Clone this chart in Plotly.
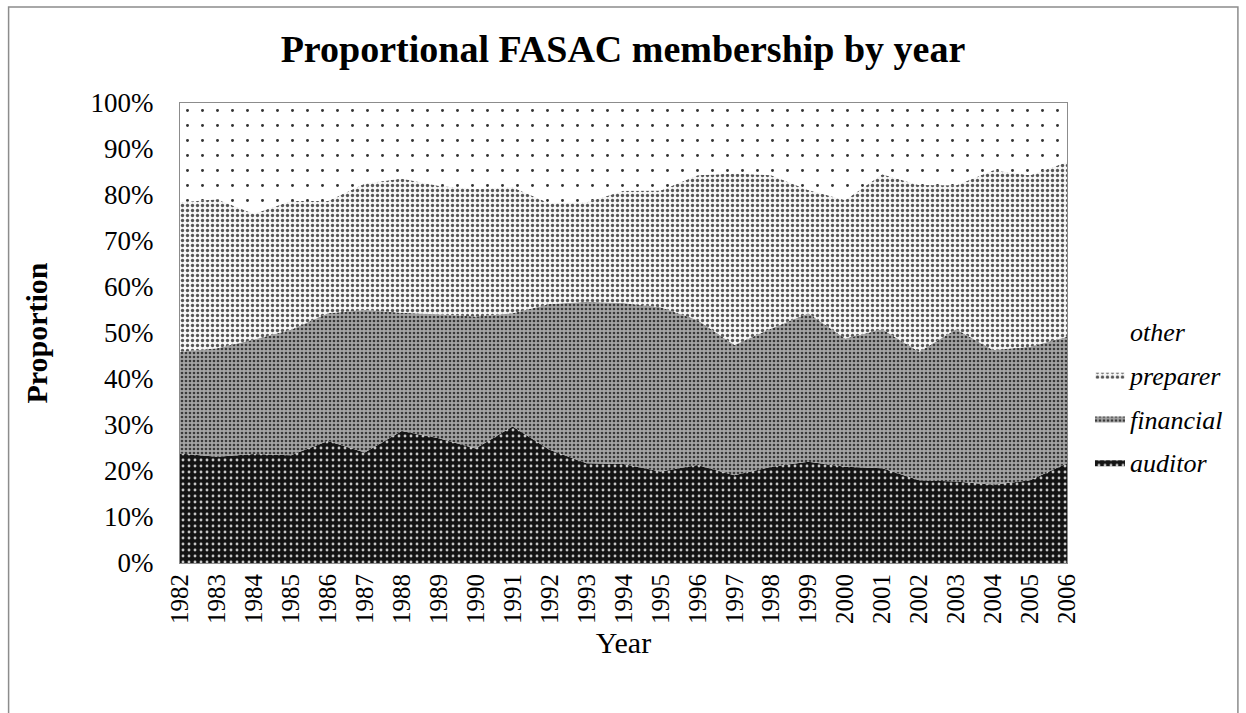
import plotly.graph_objects as go

years = list(range(1982, 2007))
auditor = [23.8, 23.1, 23.7, 23.4, 26.5, 24.0, 28.7, 27.1, 24.9, 29.7, 24.6, 21.7, 21.5,
           19.9, 21.3, 19.1, 20.9, 22.0, 20.9, 20.6, 18.0, 17.7, 17.0, 18.0, 21.7]
financial = [22.1, 23.6, 24.9, 27.3, 27.8, 31.0, 25.7, 27.0, 28.7, 24.6, 31.7, 35.1, 35.0,
             35.7, 31.5, 28.3, 30.1, 32.3, 27.9, 30.2, 27.9, 33.1, 29.3, 29.0, 27.5]
preparer = [32.5, 32.4, 27.3, 28.0, 24.4, 27.5, 29.2, 27.9, 27.7, 27.4, 21.9, 21.6, 24.4,
            25.4, 31.5, 37.3, 33.3, 26.8, 30.1, 33.7, 36.3, 31.3, 39.1, 37.3, 38.0]
other = [21.6, 20.9, 24.1, 21.3, 21.3, 17.5, 16.4, 18.0, 18.7, 18.3, 21.8, 21.6, 19.1,
         19.0, 15.7, 15.3, 15.7, 18.9, 21.1, 15.5, 17.8, 17.9, 14.6, 15.7, 12.8]
series_names = ["auditor", "financial", "preparer", "other"]
y_ticks = [0, 0.1, 0.2, 0.3, 0.4, 0.5, 0.6, 0.7, 0.8, 0.9, 1.0]

W, H = 1246, 713
ML, MR, MT, MB = 179.5, 179, 103, 150

patterns = {
    "auditor": dict(shape=".", size=6, solidity=0.18, fgcolor="#c8c8c8", bgcolor="#141414", fillmode="replace"),
    "financial": dict(shape=".", size=4, solidity=0.35, fgcolor="#3a3a3a", bgcolor="#a4a4a4", fillmode="replace"),
    "preparer": dict(shape=".", size=5, solidity=0.35, fgcolor="#555555", bgcolor="#f6f6f6", fillmode="replace"),
    "other": dict(shape=".", size=15, solidity=0.03, fgcolor="#333333", bgcolor="#ffffff", fillmode="replace"),
}

fig = go.Figure()
for i, (name, vals) in enumerate(zip(series_names, [auditor, financial, preparer, other])):
    fig.add_trace(go.Scatter(
        x=years, y=vals, name=name, mode="lines", stackgroup="one", groupnorm="fraction",
        line=dict(width=0, color="#666666"), fillpattern=patterns[name],
        legendgroup=name, legendrank=1000 - i,
    ))

pw = W - ML - MR
ph = H - MT - MB
def px_x(p):
    return (p - ML) / pw
def px_y(p):
    return (H - MB - p) / ph

fig.update_layout(
    width=W, height=H,
    margin=dict(l=ML, r=MR, t=MT, b=MB, autoexpand=False),
    paper_bgcolor="white", plot_bgcolor="white",
    title=dict(text="<b>Proportional FASAC membership by year</b>", x=0.5, xanchor="center",
               y=1 - 49 / H, yanchor="middle",
               font=dict(family="Liberation Serif", size=38, color="black")),
    font=dict(family="Liberation Serif", color="black"),
    showlegend=True,
    legend=dict(x=px_x(1090), xanchor="left", y=px_y(397), yanchor="middle",
                traceorder="grouped", tracegroupgap=7,
                font=dict(family="Liberation Serif", size=26, style="italic"),
                itemwidth=30, bgcolor="rgba(0,0,0,0)"),
    xaxis=dict(range=[1982, 2006], tickvals=years, ticktext=[str(y) for y in years],
               tickangle=-90, tickfont=dict(family="Liberation Serif", size=25),
               showgrid=False, zeroline=False, showline=True, linecolor="#8c8c8c", linewidth=1,
               mirror=True, ticks="", title=dict(text="Year", font=dict(family="Liberation Serif", size=30),
                                                  standoff=8)),
    yaxis=dict(range=[0, 1], tickvals=y_ticks, tickformat=".0%",
               tickfont=dict(family="Liberation Serif", size=27),
               showgrid=False, zeroline=False, showline=True, linecolor="#8c8c8c", linewidth=1,
               mirror=True, ticks="", ticklabelstandoff=20,
               title=dict(text="<b>Proportion</b>", font=dict(family="Liberation Serif", size=30),
                          standoff=34)),
    shapes=[dict(type="rect", xref="paper", yref="paper", x0=px_x(8), x1=px_x(1238),
                 y0=px_y(725), y1=px_y(7), line=dict(color="#8c8c8c", width=1.5), layer="below")],
)

fig.write_html("out.html")
